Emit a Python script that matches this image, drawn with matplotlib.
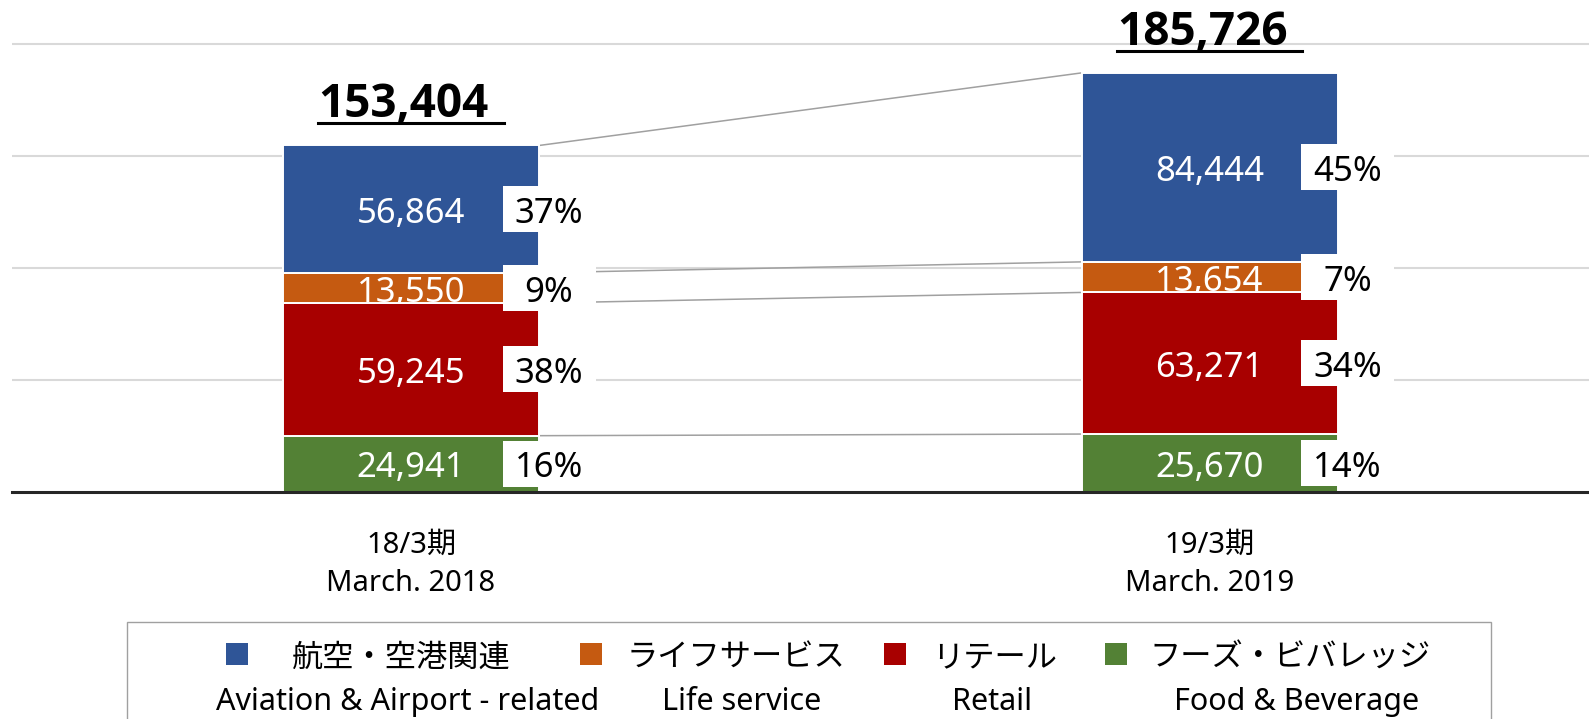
import matplotlib
matplotlib.use("Agg")
import matplotlib.pyplot as plt
import numpy as np
from matplotlib.patches import Rectangle
from matplotlib.lines import Line2D
from matplotlib.transforms import ScaledTranslation

plt.rcParams['font.family'] = ['Noto Sans', 'Noto Sans CJK JP', 'DejaVu Sans']

# data
periods = ['18/3期\nMarch. 2018', '19/3期\nMarch. 2019']
series_jp = ['航空・空港関連', 'ライフサービス', 'リテール', 'フーズ・ビバレッジ']
series_en = ['Aviation & Airport - related', 'Life service', 'Retail', 'Food & Beverage']
# stacked bottom -> top: food, retail, life, aviation
food = [24941, 25670]
retail = [59245, 63271]
life = [13550, 13654]
aviation = [56864, 84444]
food_pct = ['16%', '14%']
retail_pct = ['38%', '34%']
life_pct = ['9%', '7%']
aviation_pct = ['37%', '45%']
totals = ['153,404', '185,726']

colors = {'aviation': '#2f5597', 'life': '#c55a11', 'retail': '#a80000', 'food': '#538135'}

W, H = 1589, 719
fig = plt.figure(figsize=(W / 100, H / 100), dpi=100)
ax = fig.add_axes([12 / W, (H - 491.5) / H, 1 - 12 / W, 491.5 / H])
ax.set_xlim(-0.4997, 1.475)
ax.set_ylim(0, 219600)

x = np.arange(len(periods))
width = 0.3206

stack = [('food', food, food_pct), ('retail', retail, retail_pct),
         ('life', life, life_pct), ('aviation', aviation, aviation_pct)]

bottom = np.zeros(len(periods))
bounds = [bottom.copy()]
for key, vals, pcts in stack:
    vals = np.array(vals, dtype=float)
    bars = ax.bar(x, vals, width, bottom=bottom, color=colors[key], edgecolor='white',
                  linewidth=1.4, zorder=2)
    for i, b in enumerate(bars):
        yc = bottom[i] + vals[i] / 2
        t = ax.annotate(f'{int(vals[i]):,}', xy=(x[i], yc), xytext=(0, -3.5),
                        textcoords='offset points', color='white',
                        fontsize=25, ha='center', va='center', zorder=3)
        t.set_clip_path(b)
        # percentage label box at right edge of bar
        xr = x[i] + width / 2
        tr = fig.dpi_scale_trans + ScaledTranslation(xr, yc, ax.transData)
        ax.add_patch(Rectangle((0.10 - 0.465, -0.23), 0.93, 0.46, transform=tr,
                               facecolor='white', edgecolor='none', zorder=4, clip_on=False))
        ax.annotate(pcts[i], xy=(xr, yc), xytext=(10 * 0.72, -3.5), textcoords='offset points',
                    ha='center', va='center', fontsize=25, color='black', zorder=5)
    bottom = bottom + vals
    bounds.append(bottom.copy())

# connector lines between the two bars
for b in bounds[1:]:
    ax.plot([x[0] + width / 2, x[1] - width / 2], [b[0], b[1]], color='#a0a0a0', lw=1.1, zorder=1.5)

# total labels with underline
total_texts = []
for i in range(len(periods)):
    t = ax.annotate(totals[i], xy=(x[i], bottom[i]), xytext=(-7.5 * 0.72, 28 * 0.72),
                    textcoords='offset points', ha='center', va='baseline',
                    fontsize=33, fontweight='bold', color='black', zorder=6,
                    family=['Open Sans', 'Liberation Sans'])
    total_texts.append(t)

ax.set_yticks([50000, 100000, 150000, 200000])
ax.yaxis.grid(True, color='#d9d9d9', lw=1.5)
ax.set_axisbelow(True)
ax.tick_params(axis='y', left=False, labelleft=False)
ax.set_xticks(x)
ax.set_xticklabels(periods, fontsize=21, linespacing=1.45)
ax.tick_params(axis='x', length=0, pad=28)
for s in ['top', 'right', 'left']:
    ax.spines[s].set_visible(False)
ax.spines['bottom'].set_color('#262626')
ax.spines['bottom'].set_linewidth(2.2)
ax.spines['bottom'].set_zorder(7)

# legend drawn by hand: frame, squares, two-line labels
fig.add_artist(Rectangle((127 / W, -0.1), (1491 - 127) / W, 0.1 + (H - 622) / H,
                         transform=fig.transFigure, facecolor='white', edgecolor='#a0a0a0', lw=1))
keys = ['aviation', 'life', 'retail', 'food']
sq_x = [237, 591, 895, 1116]
jp_x = [401, 736, 995, 1290]
en_x = [408, 742, 992, 1297]
for k, sx, jx, ex, jp, en in zip(keys, sq_x, jp_x, en_x, series_jp, series_en):
    fig.add_artist(Rectangle(((sx - 11) / W, (H - 665) / H), 22 / W, 22 / H,
                             transform=fig.transFigure, facecolor=colors[k], edgecolor='none'))
    fig.text(jx / W, (H - 659) / H, jp, fontsize=22.5, ha='center', va='center')
    fig.text(ex / W, 9 / H, en, fontsize=22, ha='center', va='baseline')

# underline under total labels
fig.canvas.draw()
rend = fig.canvas.get_renderer()
inv = fig.transFigure.inverted()
for i, t in enumerate(total_texts):
    bb = t.get_window_extent(rend)
    base = ax.transData.transform((x[i], bottom[i]))[1] + 28
    yl = base - 6
    p0 = inv.transform((bb.x0, yl))
    p1 = inv.transform((bb.x1 + 15, yl))
    fig.add_artist(Line2D([p0[0], p1[0]], [p0[1], p1[1]], color='black', lw=2.2))

fig.savefig('out.png', dpi=100)
